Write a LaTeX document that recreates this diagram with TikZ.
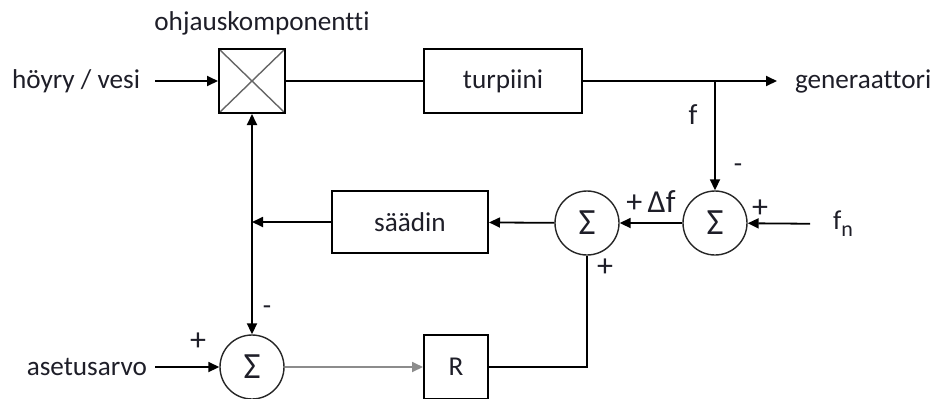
\documentclass[tikz,border=0pt]{standalone}
\usepackage{fontspec}
\setmainfont{Carlito}[Ligatures=NoCommon]
\usetikzlibrary{arrows.meta}
\definecolor{txt}{HTML}{1E1E28}
\tikzset{
  blk/.style={draw=black, line width=1pt, minimum height=32pt, inner sep=0pt, text=txt},
  sumnode/.style={draw=black!85, circle, line width=0.7pt, minimum size=32pt, inner sep=0pt, font=\fontsize{18.5}{20}\selectfont, text=txt},
  lbl/.style={inner sep=0pt, text=txt},
  sign/.style={lbl, font=\fontsize{16}{18}\selectfont},
  conn/.style={line width=0.9pt, draw=black},
  arr/.style={conn, -{Triangle[length=5.5pt,width=5pt]}},
}
\begin{document}
\begin{tikzpicture}[x=0.5pt, y=-0.5pt, font=\fontsize{13.6}{16}\selectfont]
\useasboundingbox (0,0) rectangle (937,398);
\clip (0,0) rectangle (937,398);
% blocks
\node[blk, minimum width=33pt,
  path picture={\draw[black!60, line width=0.7pt] (path picture bounding box.north west) -- (path picture bounding box.south east)
     (path picture bounding box.north east) -- (path picture bounding box.south west);}] (mix) at (252,81) {};
\node[lbl] (ohj) at (262,23) {ohjauskomponentti};
\node[blk, minimum width=79pt] (turb) at (503,81) {turpiini};
\node[blk, minimum width=78pt, minimum height=31pt] (saadin) at (410,222) {säädin};
\node[blk, minimum width=32pt] (R) at (456,367) {R};
% sums
\node[sumnode] (s1) at (715,223) {Σ};
\node[sumnode] (s2) at (587,223) {Σ};
\node[sumnode] (s3) at (252,367) {Σ};
% terminals
\node[lbl, anchor=east, outer xsep=7.5pt] (hv) at (155,81) {höyry / vesi};
\node[lbl, anchor=west, outer xsep=9pt] (gen) at (777,81) {generaattori};
\node[lbl, anchor=west, outer xsep=11.5pt] (fn) at (810,224) {f\raisebox{-0.55ex}{\fontsize{11}{12}\selectfont n}};
\node[lbl, anchor=east, outer xsep=4pt] (aset) at (155,367) {asetusarvo};
\coordinate (br) at (715,81);
\coordinate (j) at (252,222);
% signs and labels
\node[lbl, font=\fontsize{14.5}{16}\selectfont] (lf) at (693,115) {f};
\node[lbl] (m1) at (738,168) {-};
\node[sign] (df) at (651,202) {+\,Δf};
\node[sign] (p1) at (760,209) {+};
\node[sign] (p2) at (605,268) {+};
\node[sign] (p3) at (198,342) {+};
\node[lbl] (m2) at (267,310) {-};
% connectors
\draw[arr] (hv) -- (mix);
\draw[conn] (mix) -- (turb);
\draw[conn] (turb) -- (br);
\draw[arr] (br) -- (gen);
\draw[arr] (br) -- (s1);
\draw[arr] (fn) -- (s1);
\draw[arr] (s1) -- (s2);
\draw[arr] (s2) -- (saadin);
\draw[arr] (saadin) -- (j);
\draw[arr] (j) -- (mix);
\draw[arr] (j) -- (s3);
\draw[arr] (aset) -- (s3);
\draw[arr, draw=black!45] (s3) -- (R);
\draw[conn] (R) -| (s2);
\end{tikzpicture}
\end{document}
